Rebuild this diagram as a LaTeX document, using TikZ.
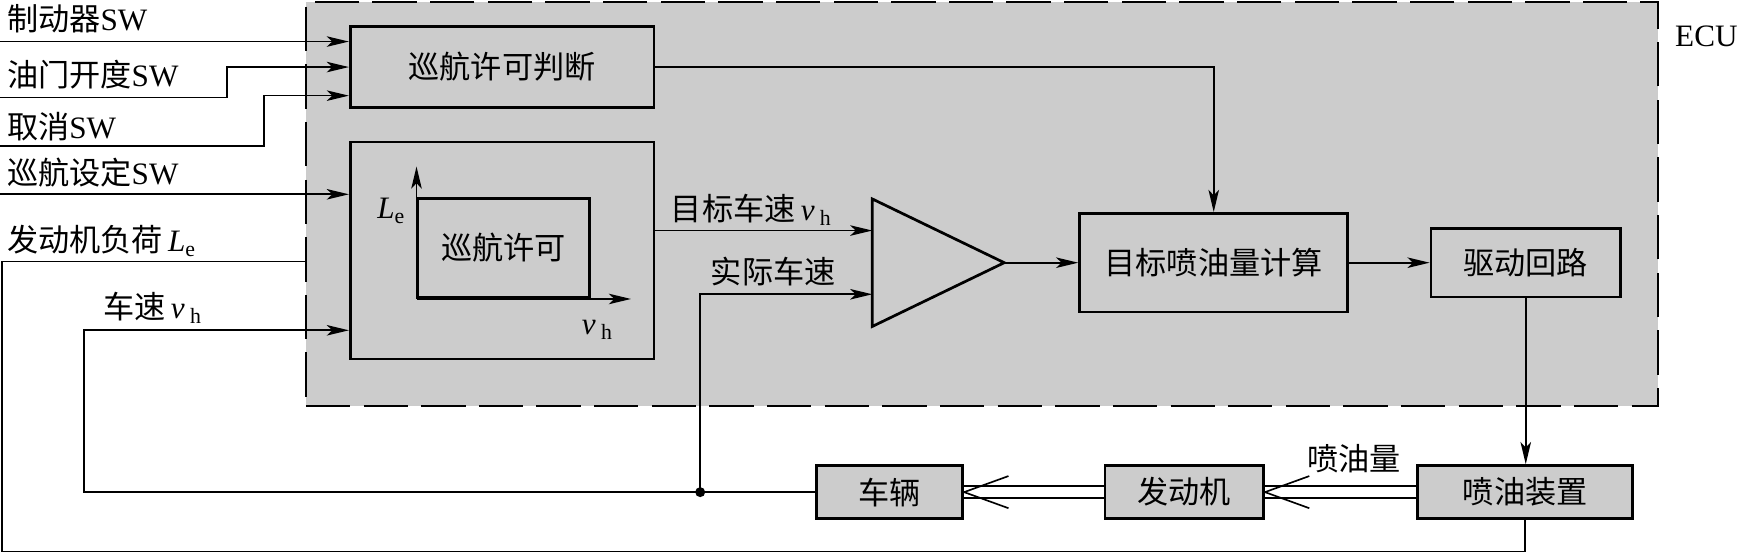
\documentclass[tikz,border=0pt]{standalone}
\usepackage{fontspec}
\setmainfont{Liberation Serif}
\newfontfamily\zh{Noto Sans CJK SC}
\usepackage{tikz}
\usetikzlibrary{shapes.geometric, positioning, arrows.meta, calc}
\definecolor{ecugray}{gray}{0.8}
\tikzset{
  ecubox/.style={rectangle, draw=black, fill=ecugray, line width=1.1pt, dash pattern=on 8mm off 2.4mm},
  block/.style={rectangle, draw=black, fill=ecugray, line width=1.4pt, inner sep=0pt, text centered},
  amp/.style={isosceles triangle, isosceles triangle stretches, draw=black, fill=ecugray, line width=1.4pt, inner sep=0pt, outer sep=0pt, minimum width=23mm, minimum height=23.8mm},
  arrow/.style={line width=0.85pt, -{Stealth[length=4mm, width=1.9mm, inset=1mm]}},
  wire/.style={line width=0.85pt},
  twin/.style={line width=0.85pt, double, double distance=1.9mm},
  tag/.style={inner sep=0pt, anchor=west}
}
\begin{document}
\begin{tikzpicture}[x=0.2mm, y=-0.2mm, every node/.style={font=\fontsize{16}{19}\selectfont}]
        \useasboundingbox (0,0) rectangle (1568,499);
        \node (ecu) [ecubox, minimum width=244mm, minimum height=72.8mm] at (886,184) {};
        \node (ecutag) [tag] at (1511,32.6) {ECU};

        \node (judge) [block, minimum width=54.8mm, minimum height=14.6mm] at (453,60.5) {\zh 巡航许可判断};
        \node (permit) [block, minimum width=54.8mm, minimum height=39.2mm] at (453,226) {};
        \node (zone) [block, minimum width=31mm, minimum height=17.9mm] at (454.5,223.75) {\zh 巡航许可};
        \node (cmp) [amp, anchor=apex] at (906,237) {};
        \node (calc) [block, minimum width=48.4mm, minimum height=17.8mm] at (1095,237) {\zh 目标喷油量计算};
        \node (drive) [block, minimum width=34.2mm, minimum height=12.4mm] at (1376.5,237) {\zh 驱动回路};
        \node (inject) [block, minimum width=38.8mm, minimum height=9.6mm] at (1376,444) {\zh 喷油装置};
        \node (engine) [block, minimum width=28.6mm, minimum height=9.6mm] at (1068.5,444) {\zh 发动机};
        \node (vehicle) [block, minimum width=26.4mm, minimum height=9.6mm] at (802.6,444) {\zh 车辆};

        \node (brake) [tag] at (6,16.5) {{\zh 制动器}SW};
        \node (throttle) [tag] at (6,67.7) {{\zh 油门开度}SW};
        \node (cancel) [tag] at (6,114) {{\zh 取消}SW};
        \node (setsw) [tag] at (6,156) {{\zh 巡航设定}SW};
        \node (load) [tag] at (6,217) {{\zh 发动机负荷}\,\textit{L}\textsubscript{e}};
        \node (speed) [tag] at (93,278) {{\zh 车速}\,\textit{v}\,\textsubscript{h}};
        \node (target) [tag] at (605,189.5) {{\zh 目标车速}\,\textit{v}\,\textsubscript{h}};
        \node (actual) [tag] at (641,245) {\zh 实际车速};
        \node (qty) [tag] at (1179,413.7) {\zh 喷油量};
        \node (ylab) at (353,190) {\textit{L}\textsubscript{e}};
        \node (xlab) at (539,298) {\textit{v}\,\textsubscript{h}};

        \coordinate (in1) at (0,37.5);
        \coordinate (in2) at (0,88);
        \coordinate (in3) at (0,131.7);
        \coordinate (in4) at (0,175.3);
        \coordinate (split) at (631.7,444);

        \draw [arrow] (in1) -- (in1 -| judge.west);
        \draw [arrow] (in2) -- ++(205,0) |- (judge.west);
        \draw [arrow] (in3) -- ++(238,0) |- (judge.west |- 0,86.3);
        \draw [arrow] (in4) -- (in4 -| permit.west);
        \draw [arrow] (judge.east) -| (calc.north);

        \draw [arrow] (zone.south west) -- ++(0,-119.5);
        \draw [arrow] (zone.south west) -- ++(193.5,0);

        \draw [arrow] (permit.east |- 0,208) -- (cmp.west |- 0,208);
        \draw [arrow] (cmp.apex) -- (calc.west);
        \draw [arrow] (calc.east) -- (drive.west);
        \draw [arrow] (drive.south) -- (drive.south |- inject.north);

        \draw [twin] (inject.west) -- (engine.east);
        \draw [wire] ([shift={(8mm,2.9mm)}]engine.east) -- (engine.east) -- ([shift={(8mm,-2.9mm)}]engine.east);
        \draw [twin] (engine.west) -- (vehicle.east);
        \draw [wire] ([shift={(8mm,2.9mm)}]vehicle.east) -- (vehicle.east) -- ([shift={(8mm,-2.9mm)}]vehicle.east);

        \draw [wire] (vehicle.west) -- (split);
        \fill (split) circle (0.9mm);
        \draw [arrow] (split) -| (76,298) -- (permit.west |- 0,298);
        \draw [arrow] (split) |- (cmp.west |- 0,265.5);
        \draw [wire] (inject.south) |- (2,497.5) -- (2,236) -- (ecu.west |- 0,236);
\end{tikzpicture}
\end{document}
